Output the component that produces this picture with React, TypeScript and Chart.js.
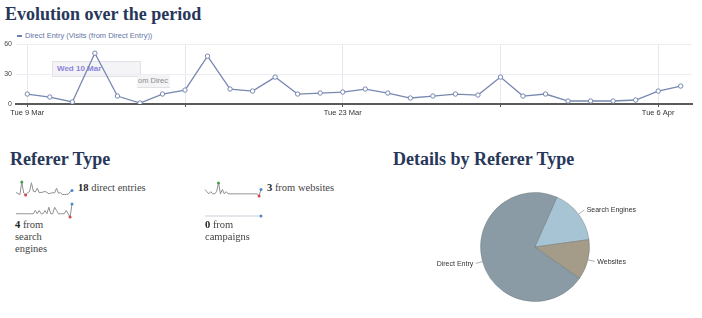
import React, { useEffect, useRef } from 'react';
import { Chart, registerables } from 'chart.js';

Chart.register(...registerables);

// ---------- DATA ----------
const dayLabels = [
  'Tue 9 Mar', 'Wed 10 Mar', 'Thu 11 Mar', 'Fri 12 Mar', 'Sat 13 Mar', 'Sun 14 Mar', 'Mon 15 Mar',
  'Tue 16 Mar', 'Wed 17 Mar', 'Thu 18 Mar', 'Fri 19 Mar', 'Sat 20 Mar', 'Sun 21 Mar', 'Mon 22 Mar',
  'Tue 23 Mar', 'Wed 24 Mar', 'Thu 25 Mar', 'Fri 26 Mar', 'Sat 27 Mar', 'Sun 28 Mar', 'Mon 29 Mar',
  'Tue 30 Mar', 'Wed 31 Mar', 'Thu 1 Apr', 'Fri 2 Apr', 'Sat 3 Apr', 'Sun 4 Apr', 'Mon 5 Apr',
  'Tue 6 Apr', 'Wed 7 Apr',
];
const directEntry = [10, 7, 2, 51, 8, 1, 10, 14, 48, 15, 13, 27, 10, 11, 12, 15, 11, 6, 8, 10, 9, 27, 8, 10, 3, 3, 3, 4, 13, 18];
const searchEngines = [1, 1, 1, 1, 1, 1, 1, 1, 1, 1, 2, 1, 2, 1, 1, 2, 1, 3, 1, 1, 3, 2, 1, 1, 1, 1, 2, 1, 0, 4];
const websites = [3, 2, 1, 2, 1, 1, 2, 6, 1, 3, 1, 2, 1, 1, 1, 1, 1, 1, 1, 1, 1, 1, 1, 1, 1, 1, 1, 1, 0, 3];
const campaigns = [0, 0, 0, 0, 0, 0, 0, 0, 0, 0, 0, 0, 0, 0, 0, 0, 0, 0, 0, 0, 0, 0, 0, 0, 0, 0, 0, 0, 0, 0];
const yTicks = [0, 30, 60];
const pieLabels = ['Direct Entry', 'Search Engines', 'Websites'];
const pieValues = [387, 87, 64];
const pieColors = ['#8b9ba5', '#a6c4d3', '#a49b89'];

const SANS = '"Liberation Sans", Arial, sans-serif';
const SERIF = '"Liberation Serif", "DejaVu Serif", serif';
const TITLE_COLOR = '#27375a';

// ---------- MAIN LINE CHART ----------
function EvolutionChart() {
  const ref = useRef<HTMLCanvasElement>(null);
  useEffect(() => {
    const chart = new Chart(ref.current!, {
      type: 'line',
      data: {
        labels: dayLabels,
        datasets: [{
          data: directEntry,
          borderColor: '#7788b0',
          borderWidth: 1.3,
          pointRadius: 2.2,
          pointBorderWidth: 1,
          pointBackgroundColor: '#ffffff',
          pointBorderColor: '#7788b0',
          tension: 0,
        }],
      },
      options: {
        animation: false,
        responsive: false,
        maintainAspectRatio: false,
        layout: { padding: { top: 5, right: 10, left: 0, bottom: 0 } },
        plugins: { legend: { display: false }, tooltip: { enabled: false } },
        scales: {
          x: {
            type: 'category',
            offset: true,
            grid: {
              offset: false,
              color: (c: any) => (c.index % 7 === 0 ? '#e4e7ee' : 'rgba(0,0,0,0)'),
              tickColor: (c: any) => (c.index % 7 === 0 ? '#555' : 'rgba(0,0,0,0)'),
              tickLength: 3,
            },
            border: { color: '#5a5a5a', width: 2 },
            ticks: {
              autoSkip: false,
              maxRotation: 0,
              minRotation: 0,
              padding: 1,
              color: '#333',
              font: { family: SANS, size: 7.5 },
              callback: (_v: any, i: number) => (i % 14 === 0 ? dayLabels[i] : ''),
            },
            afterFit: (s: any) => { s.height = 16; },
          },
          y: {
            min: yTicks[0],
            max: yTicks[yTicks.length - 1],
            afterBuildTicks: (s: any) => { s.ticks = yTicks.map((v) => ({ value: v })); },
            grid: { color: '#eceef3', drawTicks: false },
            border: { display: false },
            ticks: { padding: 4, color: '#444', font: { family: SANS, size: 7 } },
            afterFit: (s: any) => { s.width = 16; },
          },
        },
      },
    });
    return () => chart.destroy();
  }, []);
  return (
    <canvas
      ref={ref}
      width={702}
      height={84}
      style={{ position: 'absolute', left: 0, top: 36, width: 702, height: 84, zIndex: 2 }}
    />
  );
}

// ---------- SPARKLINES ----------
function Sparkline(props: { values: number[]; left: number; top: number; width: number; height: number; lineColor?: string }) {
  const ref = useRef<HTMLCanvasElement>(null);
  const { values, left, top, width, height } = props;
  useEffect(() => {
    const max = Math.max(...values);
    const min = Math.min(...values);
    const last = values.length - 1;
    const maxIdx = values.indexOf(max);
    const minIdx = values.indexOf(min);
    const flat = max === min;
    const colorAt = (i: number) => {
      if (i === last) return '#4f88cf';
      if (!flat && i === maxIdx) return '#4a9a4a';
      if (!flat && i === minIdx) return '#d04848';
      return 'rgba(0,0,0,0)';
    };
    const chart = new Chart(ref.current!, {
      type: 'line',
      data: {
        labels: values.map((_, i) => i),
        datasets: [{
          data: values,
          borderColor: props.lineColor || '#8f8f8f',
          borderWidth: 1,
          tension: 0,
          clip: false,
          pointRadius: (c: any) => (colorAt(c.dataIndex) === 'rgba(0,0,0,0)' ? 0 : 1.5),
          pointBackgroundColor: (c: any) => colorAt(c.dataIndex),
          pointBorderColor: (c: any) => colorAt(c.dataIndex),
          pointBorderWidth: 0,
        }],
      },
      options: {
        animation: false,
        responsive: false,
        maintainAspectRatio: false,
        layout: { padding: 2, autoPadding: false },
        plugins: { legend: { display: false }, tooltip: { enabled: false } },
        scales: {
          x: { display: false },
          y: {
            display: false,
            bounds: 'data',
            min: flat ? min - 1 : min,
            max: flat ? max + 1 : max,
          },
        },
      },
    });
    return () => chart.destroy();
  }, []);
  return (
    <canvas
      ref={ref}
      width={width}
      height={height}
      style={{ position: 'absolute', left, top, width, height }}
    />
  );
}

// ---------- PIE ----------
const pieLabelPlugin = {
  id: 'pieLabels',
  afterDatasetsDraw(chart: any) {
    const ctx = chart.ctx;
    const meta = chart.getDatasetMeta(0);
    ctx.save();
    ctx.font = `7px ${SANS}`;
    ctx.fillStyle = '#333';
    ctx.strokeStyle = '#9a9a9a';
    ctx.lineWidth = 0.8;
    ctx.textBaseline = 'middle';
    meta.data.forEach((arc: any, i: number) => {
      const p = arc.getProps(['x', 'y', 'startAngle', 'endAngle', 'outerRadius'], true);
      const mid = (p.startAngle + p.endAngle) / 2;
      const cx = Math.cos(mid), cy = Math.sin(mid);
      const x1 = p.x + cx * p.outerRadius, y1 = p.y + cy * p.outerRadius;
      const x2 = p.x + cx * (p.outerRadius + 7), y2 = p.y + cy * (p.outerRadius + 7);
      ctx.beginPath();
      ctx.moveTo(x1, y1);
      ctx.lineTo(x2, y2);
      ctx.stroke();
      const right = cx >= 0;
      ctx.textAlign = right ? 'left' : 'right';
      ctx.fillText(pieLabels[i], x2 + (right ? 2.5 : -2.5), y2 + 0.5);
    });
    ctx.restore();
  },
};

function PieChart() {
  const ref = useRef<HTMLCanvasElement>(null);
  useEffect(() => {
    const chart = new Chart(ref.current!, {
      type: 'pie',
      data: {
        labels: pieLabels,
        datasets: [{
          data: pieValues,
          backgroundColor: pieColors,
          borderColor: 'rgba(95,105,110,0.55)',
          borderWidth: 0.7,
        }],
      },
      options: {
        animation: false,
        responsive: false,
        maintainAspectRatio: false,
        rotation: 125,
        radius: 54.5,
        layout: { padding: 0 },
        plugins: { legend: { display: false }, tooltip: { enabled: false } },
      },
      plugins: [pieLabelPlugin],
    });
    return () => chart.destroy();
  }, []);
  return (
    <canvas
      ref={ref}
      width={260}
      height={130}
      style={{ position: 'absolute', left: 405, top: 182, width: 260, height: 130 }}
    />
  );
}

// ---------- APP ----------
const titleStyle: React.CSSProperties = {
  position: 'absolute',
  fontFamily: SERIF,
  fontWeight: 'bold',
  fontSize: 18,
  lineHeight: '20px',
  color: TITLE_COLOR,
  whiteSpace: 'nowrap',
  margin: 0,
};
const bodyStyle: React.CSSProperties = {
  position: 'absolute',
  fontFamily: SERIF,
  fontSize: 10.5,
  lineHeight: '12px',
  color: '#444',
  whiteSpace: 'nowrap',
};

export default function App() {
  return (
    <div style={{ position: 'absolute', left: 0, top: 0, width: 702, height: 318, background: '#fff', overflow: 'hidden' }}>
      <div style={{ ...titleStyle, left: 5, top: 4 }}>Evolution over the period</div>

      {/* legend */}
      <div style={{ position: 'absolute', left: 17, top: 35, width: 5, height: 1.5, background: '#6d7fae' }} />
      <div style={{ position: 'absolute', left: 25, top: 31, fontFamily: SANS, fontSize: 7.5, lineHeight: '9px', color: '#6475a5', whiteSpace: 'nowrap' }}>
        Direct Entry (Visits (from Direct Entry))
      </div>

      {/* stale tooltip fragments */}
      <div style={{ position: 'absolute', left: 52, top: 61, width: 87, height: 14, background: 'rgba(243,243,245,0.9)', border: '1px solid #e2e2e6', zIndex: 1 }}>
        <span style={{ position: 'absolute', left: 4, top: 2, fontFamily: SANS, fontSize: 8, fontWeight: 'bold', color: '#8c82dc', whiteSpace: 'nowrap' }}>Wed 10 Mar</span>
      </div>
      <div style={{ position: 'absolute', left: 137, top: 74, width: 33, height: 13, background: 'rgba(243,243,245,0.9)', borderBottom: '1px solid #e2e2e6', zIndex: 1 }}>
        <span style={{ position: 'absolute', left: 1, top: 2, fontFamily: SANS, fontSize: 7.5, color: '#8a8a8a', whiteSpace: 'nowrap' }}>om Direc</span>
      </div>

      <EvolutionChart />

      <div style={{ ...titleStyle, left: 10, top: 149 }}>Referer Type</div>
      <div style={{ ...titleStyle, left: 393, top: 149 }}>Details by Referer Type</div>

      <Sparkline values={directEntry} left={14} top={180} width={60} height={17} />
      <div style={{ ...bodyStyle, left: 78, top: 182 }}><b style={{ color: '#222' }}>18</b> direct entries</div>

      <Sparkline values={websites} left={203} top={181} width={60} height={17} />
      <div style={{ ...bodyStyle, left: 267, top: 182 }}><b style={{ color: '#222' }}>3</b> from websites</div>

      <Sparkline values={searchEngines} left={14} top={202} width={60} height={17} />
      <div style={{ ...bodyStyle, left: 15, top: 219 }}><b style={{ color: '#222' }}>4</b> from<br />search<br />engines</div>

      <Sparkline values={campaigns} left={203} top={208} width={60} height={16} lineColor="#c5ccd6" />
      <div style={{ ...bodyStyle, left: 205, top: 219 }}><b style={{ color: '#222' }}>0</b> from<br />campaigns</div>

      <PieChart />
    </div>
  );
}
